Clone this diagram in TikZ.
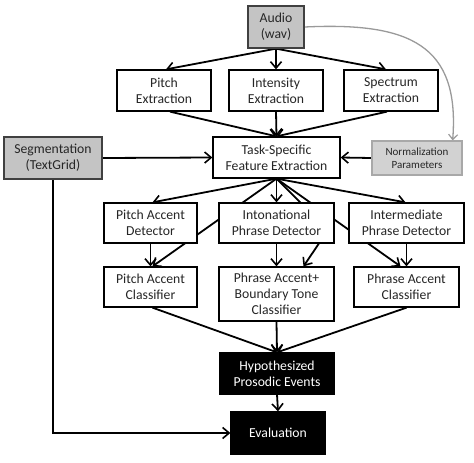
\documentclass[tikz,border=0pt]{standalone}
\usepackage{fontspec}
\setmainfont{Carlito}
\usetikzlibrary{arrows.meta,backgrounds,calc}
\definecolor{gfill}{HTML}{C4C4C4}
\definecolor{nfill}{HTML}{D2D2D2}
\definecolor{nborder}{HTML}{A8A8A8}
\definecolor{curvec}{HTML}{9A9A9A}
\tikzset{
  box/.style={draw=black, line width=1.3pt, fill=white, align=center, inner sep=1pt,
    font=\fontsize{13.7}{16}\selectfont, text=black!85},
  graybox/.style={box, fill=gfill, draw=black!75},
  normbox/.style={box, fill=nfill, draw=nborder, font=\fontsize{11}{13}\selectfont},
  blackbox/.style={box, fill=black, text=white},
  conn/.style={line width=1.8pt, -{Straight Barb[length=6.5pt,width=11pt,line width=1.6pt]}},
}
\begin{document}
\begin{tikzpicture}[x=1pt,y=-1pt]
\useasboundingbox (0,0) rectangle (474,463);

\node[graybox, minimum width=56pt, minimum height=42pt] (audio) at (276,27) {Audio\\(wav)};
\node[box, minimum width=94pt, minimum height=41pt] (pitchx) at (164,90.5) {Pitch\\Extraction};
\node[box, minimum width=94pt, minimum height=41pt] (intx) at (276,90.5) {Intensity\\Extraction};
\node[box, minimum width=94pt, minimum height=41pt] (specx) at (391,90.5) {Spectrum\\Extraction};
\node[box, minimum width=127pt, minimum height=41pt] (task) at (276.5,157.5) {Task-Specific\\Feature Extraction};
\node[graybox, minimum width=98pt, minimum height=42pt] (seg) at (53,158) {Segmentation\\(TextGrid)};
\node[normbox, minimum width=90pt, minimum height=34pt] (norm) at (417,158) {Normalization\\Parameters};
\node[box, minimum width=93pt, minimum height=40pt] (pad) at (150.5,223) {Pitch Accent\\Detector};
\node[box, minimum width=115pt, minimum height=40pt] (ipd) at (276.5,223) {Intonational\\Phrase Detector};
\node[box, minimum width=115pt, minimum height=40pt] (imd) at (406.5,223) {Intermediate\\Phrase Detector};
\node[box, minimum width=93pt, minimum height=40pt] (pac) at (150.5,287) {Pitch Accent\\Classifier};
\node[box, minimum width=115pt, minimum height=54pt] (pabt) at (276.5,294) {Phrase Accent+\\Boundary Tone\\Classifier};
\node[box, minimum width=105pt, minimum height=40pt] (pac2) at (406.5,287) {Phrase Accent\\Classifier};
\node[blackbox, minimum width=114pt, minimum height=41pt] (hyp) at (277,373.5) {Hypothesized\\Prosodic Events};
\node[blackbox, minimum width=94pt, minimum height=42pt] (eval) at (278,433) {Evaluation};

\coordinate (bend) at (328,230);
\coordinate (segcorner) at (53,433);

\begin{scope}[on background layer]
  % audio to extraction
  \draw[conn] (audio.south) -- ($(pitchx.north)+(2,0)$);
  \draw[conn] (audio.south) -- (intx.north);
  \draw[conn] (audio.south) -- ($(specx.north)+(-5,0)$);
  % extraction to task
  \draw[conn] ($(pitchx.south)+(6,0)$) -- (task.north);
  \draw[conn] (intx.south) -- (task.north);
  \draw[conn] ($(specx.south)+(-4,0)$) -- (task.north);
  % side inputs
  \draw[conn] (seg.east) -- (task.west);
  \draw[conn] (norm.west) -- (task.east);
  % task to detectors
  \draw[conn] (task.south) -- ($(pad.north)+(2,0)$);
  \draw[conn] (task.south) -- (ipd.north);
  \draw[conn] (task.south) -- ($(imd.north)+(-1,0)$);
  % task to classifiers (behind intonational detector)
  \draw[conn] (task.south) -- ($(pac.north)+(2,0)$);
  \draw[conn] (task.south) -- (bend) -- ($(pabt.north)+(27,0)$);
  \draw[conn] (task.south) -- ($(pac2.north)+(-6,0)$);
  % detectors to classifiers
  \draw[conn] (pad.south) -- (pac.north);
  \draw[conn] (ipd.south) -- (pabt.north);
  \draw[conn] (imd.south) -- (pac2.north);
  % classifiers to hypothesized
  \draw[conn] ($(pac.south)+(2,0)$) -- (hyp.north);
  \draw[conn] (pabt.south) -- (hyp.north);
  \draw[conn] (pac2.south) -- (hyp.north);
  % to evaluation
  \draw[conn] (hyp.south) -- (eval.north);
  \draw[conn] (seg.south) -- (segcorner) -- (eval.west);
  % gray curve
  \draw[curvec, line width=1.3pt, -{Straight Barb[length=5pt,width=9pt,line width=1.2pt]}]
    (audio.east) .. controls (410,22) and (460,45) .. ($(norm.north east)+(-10,0)$);
\end{scope}
\end{tikzpicture}
\end{document}
